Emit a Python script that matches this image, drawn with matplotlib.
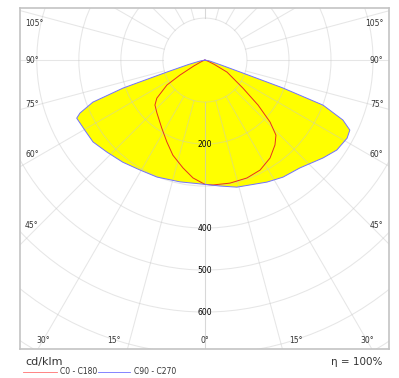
import numpy as np
import matplotlib
matplotlib.use("Agg")
import matplotlib.pyplot as plt
from matplotlib.patches import Circle

# Luminous intensity (cd/klm) vs angle from nadir (deg)
c90_ang = [0, 6.8, 14.1, 27, 33.7, 41.3, 50.3, 55.7, 61.2, 64.2, 66.5, 69.1, 70.3, 71.1, 73, 80, 90]
c90_val = [296, 302, 312, 326, 335, 342, 365, 380, 386, 383, 358, 301, 197, 96, 40, 10, 0]
c270_ang = [0, 11.6, 22.3, 30.6, 38.8, 46.8, 53.8, 59.7, 63.3, 65.6, 67.0, 69.4, 71.1, 72.5, 75, 80, 90]
c270_val = [296, 296, 301, 304, 312, 320, 330, 331, 333, 335, 323, 285, 206, 95, 40, 10, 0]
c0_ang = [0, 3.7, 11.5, 19.6, 26.6, 33.6, 39.5, 43.4, 46.4, 49.7, 53.6, 61.4, 65, 70, 90]
c0_val = [296, 298, 299, 298, 293, 280, 262, 246, 214, 166, 112, 60, 25, 8, 0]
c180_ang = [0, 5.8, 11.5, 18.6, 24.9, 32.3, 42.2, 48, 51.6, 56.7, 59, 62, 65, 70, 90]
c180_val = [296, 282, 262, 239, 215, 192, 170, 160, 146, 108, 69, 30, 12, 4, 0]

ring_values = [100, 200, 300, 400, 500, 600, 700, 800, 900]
ring_labels = [200, 400, 500, 600]
angle_labels = [105, 90, 75, 60, 45]
bottom_labels = [30, 15, 0]


def to_xy(ang, val, side):
    a = np.radians(ang)
    v = np.asarray(val, dtype=float)
    return side * v * np.sin(a), -v * np.cos(a)


def curve(left_ang, left_val, right_ang, right_val):
    xl, yl = to_xy(left_ang, left_val, -1)
    xr, yr = to_xy(right_ang, right_val, 1)
    x = np.concatenate([xl[::-1], xr])
    y = np.concatenate([yl[::-1], yr])
    return x, y


fig = plt.figure(figsize=(3.99, 3.78), dpi=100)
ax = fig.add_axes([20 / 399, 29 / 378, 369 / 399, 341 / 378])
ax.set_xlim(-440, 438)
ax.set_ylim(-688, 124)
ax.set_xticks([])
ax.set_yticks([])
for s in ax.spines.values():
    s.set_color("#c4c4c4")
    s.set_linewidth(1.2)

# curves
bx, by = curve(c270_ang, c270_val, c90_ang, c90_val)
rx, ry = curve(c180_ang, c180_val, c0_ang, c0_val)
ax.fill(bx, by, color="#ffff00", zorder=1, lw=0)
ax.fill(rx, ry, color="#ffff00", zorder=1, lw=0)

# polar grid
grid_kw = dict(color="#c8c8c8", alpha=0.45, lw=0.75, zorder=2)
for r in ring_values:
    ax.add_patch(Circle((0, 0), r, fill=False, **grid_kw))
for k in range(0, 13):
    a = np.radians(15 * k)
    for side in (-1, 1):
        ax.plot([side * 100 * np.sin(a), side * 1200 * np.sin(a)],
                [-100 * np.cos(a), -1200 * np.cos(a)], **grid_kw)

ax.plot(rx, ry, color="#e83020", lw=0.7, zorder=3)
ax.plot(bx, by, color="#7070ff", lw=0.7, zorder=4)

# labels
fs = 5.5
tc = "#333333"
for v in ring_labels:
    ax.text(0, -v, str(v), ha="center", va="center", fontsize=fs, zorder=5)

side_y = {105: 86, 90: 0, 75: -105, 60: -226, 45: -395}
for a in angle_labels:
    ax.text(-428, side_y[a], f"{a}°", ha="left", va="center", fontsize=fs, color=tc)
    ax.text(425, side_y[a], f"{a}°", ha="right", va="center", fontsize=fs, color=tc)
bottom_x = {30: 402, 15: 200}
for a in bottom_labels:
    if a == 0:
        ax.text(0, -667, "0°", ha="center", va="center", fontsize=fs, color=tc)
    else:
        ax.text(-bottom_x[a], -667, f"{a}°", ha="left" if a == 30 else "right",
                va="center", fontsize=fs, color=tc)
        ax.text(bottom_x[a], -667, f"{a}°", ha="left" if a == 15 else "right",
                va="center", fontsize=fs, color=tc)

fig.text(25 / 399, 1 - 362 / 378, "cd/klm", fontsize=8, va="center", ha="left", color=tc)
fig.text(382 / 399, 1 - 362 / 378, "η = 100%", fontsize=7.5, va="center", ha="right", color=tc)
fig.lines.append(plt.Line2D([23 / 399, 57 / 399], [1 - 372 / 378] * 2, color="#ff7070", lw=0.6,
                            transform=fig.transFigure))
fig.lines.append(plt.Line2D([98 / 399, 130 / 399], [1 - 372 / 378] * 2, color="#7070ff", lw=0.6,
                            transform=fig.transFigure))
fig.text(60 / 399, 1 - 372 / 378, "C0 - C180", fontsize=5.5, va="center", ha="left", color=tc)
fig.text(134 / 399, 1 - 372 / 378, "C90 - C270", fontsize=5.5, va="center", ha="left", color=tc)

fig.savefig("out.png", dpi=100)
